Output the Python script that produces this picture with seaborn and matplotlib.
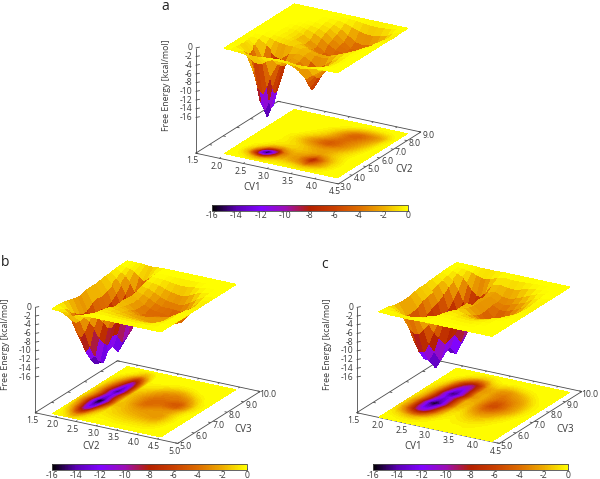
import numpy as np
import matplotlib
matplotlib.use("Agg")
import matplotlib.pyplot as plt
import seaborn as sns
from matplotlib.cm import ScalarMappable
from matplotlib.colors import Normalize
from mpl_toolkits.mplot3d import proj3d

sns.set_theme(style="white")
plt.rcParams["font.family"] = ["Open Sans", "DejaVu Sans"]
plt.rcParams["axes.unicode_minus"] = False

# ---- data -------------------------------------------------------------
a_x = [1.96, 2.10, 2.25, 2.40, 2.50, 2.60, 2.68, 2.75, 2.90, 3.05, 3.20, 3.35, 3.50, 3.65, 3.80, 3.95, 4.10, 4.20, 4.33]
a_y = [3.5, 3.8, 4.1, 4.25, 4.4, 4.55, 4.7, 5.0, 5.3, 5.6, 5.9, 6.2, 6.5, 6.8, 7.1, 7.4, 7.7, 8.0, 8.3, 8.6]
a_z = [
 [0,0,-.1,-.3,-.45,-.5,-.4,-.3,-.2,-.2,-.2,-.3,-.4,-.3,-.2,-.1,0,0,0],
 [0,-.1,-.6,-1.6,-2.4,-2.6,-2.2,-1.6,-.9,-.8,-.9,-1.2,-1.6,-1.3,-.8,-.3,-.1,0,0],
 [0,-.3,-1.6,-5.5,-9,-10,-8,-5.5,-2.4,-1.8,-2.2,-3,-4.5,-3.2,-2,-.8,-.2,0,0],
 [0,-.3,-1.9,-7,-12.5,-14,-11.5,-8.2,-3,-2.1,-2.5,-3.6,-5.5,-3.8,-2.3,-.9,-.2,0,0],
 [0,-.3,-1.8,-7,-13.4,-16,-13.6,-10,-3.5,-2.4,-2.7,-4.2,-7,-4.4,-2.4,-1,-.3,0,0],
 [0,-.3,-1.4,-5.4,-12,-14.6,-13.4,-10.2,-3.8,-2.4,-2.7,-4.6,-7.8,-4.8,-2.4,-1,-.3,0,0],
 [0,-.2,-1,-3.6,-7.6,-10,-10,-9,-3.6,-2.3,-2.7,-4.4,-7.6,-4.6,-2.4,-1,-.3,0,0],
 [0,-.1,-.4,-1.2,-2.4,-3.2,-3.5,-3.6,-2.2,-1.8,-2.1,-3.1,-4.2,-3,-1.7,-.8,-.2,0,0],
 [0,0,-.1,-.4,-.8,-1,-1.1,-1.2,-1.2,-1.4,-1.8,-2.2,-2.4,-1.9,-1.2,-.6,-.1,0,0],
 [0,0,0,-.2,-.4,-.5,-.7,-.8,-1.1,-1.6,-2.1,-2.4,-2.4,-2,-1.3,-.7,-.2,0,0],
 [0,0,0,-.1,-.3,-.5,-.8,-1,-1.7,-2.5,-3.1,-3.4,-3.1,-2.6,-1.8,-1,-.3,0,0],
 [0,0,0,-.1,-.4,-.6,-1,-1.3,-2.3,-3.3,-4.2,-4.9,-4.2,-3.3,-2.4,-1.4,-.5,-.1,0],
 [0,0,0,-.1,-.3,-.5,-.8,-1.1,-2.1,-3.1,-4.2,-4.9,-4.4,-3.5,-2.8,-1.8,-.8,-.2,0],
 [0,0,0,0,-.1,-.2,-.4,-.6,-1.2,-2,-3.1,-4,-4.2,-3.7,-3.1,-2.2,-1.1,-.3,0],
 [0,0,0,0,0,-.1,-.2,-.3,-.7,-1.3,-2.4,-3.5,-4.2,-4.2,-3.5,-2.6,-1.4,-.5,0],
 [0,0,0,0,0,0,-.1,-.1,-.4,-.9,-2,-3.3,-4.4,-4.6,-3.9,-3,-1.9,-.7,-.1],
 [0,0,0,0,0,0,0,0,-.2,-.6,-1.3,-2.4,-3.5,-3.9,-3.5,-3,-2,-.9,-.1],
 [0,0,0,0,0,0,0,0,-.1,-.2,-.5,-1.1,-1.7,-2,-2,-1.7,-1.1,-.5,0],
 [0,0,0,0,0,0,0,0,0,0,-.1,-.2,-.4,-.6,-.6,-.5,-.3,-.1,0],
 [0,0,0,0,0,0,0,0,0,0,0,0,0,0,0,0,0,0,0],
]

b_x = [1.85, 2.0, 2.1, 2.2, 2.3, 2.4, 2.5, 2.6, 2.75, 2.9, 3.05, 3.2, 3.35, 3.5, 3.65, 3.8, 3.95, 4.1, 4.3, 4.5]
b_y = [5.2, 5.5, 5.8, 6.1, 6.4, 6.7, 6.9, 7.2, 7.5, 7.8, 8.1, 8.4, 8.7, 9.0, 9.3, 9.75]
b_z = [
 [-.1,-.2,-.4,-.9,-1,-.7,-.3,-.1,0,0,0,0,0,0,0,0,0,0,0,0],
 [-.1,-.6,-1.4,-2.6,-3,-2.3,-1.2,-.6,-.2,-.2,-.2,-.3,-.3,-.3,-.3,-.3,-.3,-.2,-.1,0],
 [-.2,-1.6,-3.6,-6,-7,-5.4,-2.8,-1.2,-.4,-.5,-.6,-.7,-.8,-.8,-.8,-.8,-.8,-.5,-.1,0],
 [-.5,-2.8,-5.6,-9,-11,-9.5,-5,-2.2,-.7,-.9,-1.1,-1.2,-1.4,-1.5,-1.6,-1.6,-1.5,-.9,-.2,0],
 [-.8,-3.6,-6.8,-11,-13.5,-12.5,-8,-4.2,-.9,-1.2,-1.5,-1.8,-2,-2.2,-2.4,-2.5,-2.3,-1.3,-.3,0],
 [-1.2,-4.3,-7.7,-12,-15.3,-14.5,-10,-6.3,-1.5,-1.5,-1.9,-2.3,-2.5,-2.6,-2.6,-2.8,-2.6,-1.4,-.3,0],
 [-1.2,-4.2,-7.6,-12,-15.6,-15.4,-11,-6.8,-1.6,-1.6,-2.2,-2.8,-3,-2.8,-2.6,-2.6,-2.4,-1.4,-.3,0],
 [-.8,-3.2,-6,-9.6,-13,-13.2,-9.6,-6,-1.4,-2,-3,-3.8,-4,-3.6,-3.2,-3,-2.8,-1.9,-.5,0],
 [-.7,-2.8,-5.2,-8.6,-12,-13,-10,-6.2,-1.5,-2.2,-3.1,-4.1,-4.3,-4,-4.2,-4.6,-4.6,-3.2,-.9,0],
 [-.8,-3,-5.6,-9,-13,-15,-12.4,-7.6,-1.6,-2.2,-3.1,-3.8,-4.1,-4.2,-4.6,-5.1,-5.1,-3.4,-1,0],
 [-.6,-2.6,-4.8,-7.6,-11,-13.8,-12,-7.6,-1.4,-1.8,-2.5,-3.2,-3.7,-3.7,-3.7,-3.9,-3.5,-2.3,-.6,0],
 [-.4,-2,-3.8,-6,-9.4,-12.5,-11,-7,-.9,-1.2,-1.8,-2.5,-3,-3.2,-3.4,-3,-2.3,-1.2,-.2,0],
 [-.3,-1.4,-2.6,-4.4,-7,-10,-8.8,-5.4,-.5,-.6,-.9,-1.4,-1.8,-2.1,-2.1,-1.6,-.9,-.4,0,0],
 [-.1,-.7,-1.4,-2.6,-4.4,-6.4,-5.6,-3.2,-.2,-.2,-.3,-.5,-.7,-.8,-.7,-.5,-.2,0,0,0],
 [0,-.2,-.4,-.9,-1.6,-2.5,-2.2,-1.2,-.1,0,0,-.1,-.1,-.1,-.1,0,0,0,0,0],
 [0,0,0,0,-.1,-.2,-.2,-.1,0,0,0,0,0,0,0,0,0,0,0,0],
]

c_x = [1.96, 2.1, 2.2, 2.3, 2.4, 2.5, 2.6, 2.7, 2.8, 2.95, 3.1, 3.25, 3.4, 3.55, 3.7, 3.85, 4.0, 4.15, 4.33]
c_y = [5.03, 5.3, 5.6, 5.9, 6.2, 6.5, 6.9, 7.2, 7.5, 7.85, 8.2, 8.5, 8.8, 9.1, 9.4, 9.75]
c_z = [
 [0,0,-.1,-.1,-.1,-.1,-.1,-.1,0,0,0,0,0,0,0,0,0,0,0],
 [-.1,-.2,-.3,-.5,-.6,-.6,-.5,-.3,-.2,-.1,0,0,-.1,-.1,-.1,0,0,0,0],
 [-.3,-.8,-1.2,-1.7,-2,-1.9,-1.5,-1,-.6,-.2,-.1,-.2,-.2,-.3,-.2,-.1,0,0,0],
 [-.7,-2,-3.3,-4.8,-5.9,-5.8,-4.4,-3,-1.6,-.5,-.2,-.4,-.5,-.5,-.4,-.2,-.1,0,0],
 [-1,-3.3,-6,-8.8,-10.8,-10.7,-8.4,-5.5,-2.9,-.8,-.4,-.7,-1,-1,-.7,-.4,-.1,0,0],
 [-1.1,-3.5,-6.8,-10.3,-13.1,-13.2,-10.8,-7.4,-4,-1.1,-.6,-1.2,-1.7,-1.7,-1.3,-.7,-.3,-.1,0],
 [-1,-3.2,-6.7,-10.9,-14.7,-16,-14,-10,-6,-1.8,-1.2,-2.3,-3.1,-3.1,-2.5,-1.6,-.8,-.2,0],
 [-.7,-2.4,-5.2,-8.7,-12.3,-14,-12.9,-9.5,-5.9,-1.8,-1.7,-3.1,-4.4,-4.4,-3.5,-2.5,-1.4,-.4,0],
 [-.5,-2,-4.5,-7.8,-11,-13,-12.2,-9.1,-5.9,-1.8,-2,-3.6,-5.4,-5.6,-4.2,-2.9,-1.8,-.6,0],
 [-.5,-1.8,-4,-7.8,-11.7,-14.7,-14.7,-11.7,-7.8,-3,-2.1,-3.5,-5.1,-5.1,-3.9,-2.8,-1.8,-.6,0],
 [-.3,-1.3,-3.1,-6.2,-9.4,-12.4,-13,-10.7,-7.4,-2.6,-2.1,-3.2,-4,-3.8,-3.2,-2.5,-1.4,-.4,0],
 [-.2,-.9,-2.1,-4.8,-7.6,-10.2,-11.4,-10,-7.2,-2.8,-2.3,-3.2,-3.6,-3,-2.5,-1.8,-.8,-.2,0],
 [-.1,-.5,-1.4,-3.2,-5.6,-7.7,-9.2,-8.8,-6.6,-2.4,-2,-2.7,-2.9,-2.3,-1.7,-.9,-.3,0,0],
 [0,-.2,-.5,-1.2,-2.4,-3.8,-4.8,-4.7,-3.5,-1.3,-1,-1.4,-1.4,-1,-.6,-.3,0,0,0],
 [0,0,-.1,-.3,-.6,-1,-1.4,-1.4,-1.1,-.4,-.2,-.3,-.3,-.2,-.1,0,0,0,0],
 [0,0,0,0,-.1,-.1,-.1,-.1,-.1,0,0,0,0,0,0,0,0,0,0],
]

z_ticks = [0, -2, -4, -6, -8, -10, -12, -14, -16]
cbar_ticks = [-16, -14, -12, -10, -8, -6, -4, -2, 0]
cv1_ticks = [1.5, 2.0, 2.5, 3.0, 3.5, 4.0, 4.5]
cv2a_ticks = [3.0, 4.0, 5.0, 6.0, 7.0, 8.0, 9.0]
cv2b_ticks = [1.5, 2.0, 2.5, 3.0, 3.5, 4.0, 4.5, 5.0]
cv3_ticks = [5.0, 6.0, 7.0, 8.0, 9.0, 10.0]

# ---- style ------------------------------------------------------------
W, H = 600, 479
Z_FLOOR = -24.2
INK = "#3a3a3a"
LINE = "#4a4a4a"
FS = 6.2
cmap = sns.blend_palette(["#000000", "#5a00b4", "#8004ff", "#9c0eb4", "#b42000",
                          "#c93e00", "#dd6c00", "#eeab00", "#ffff00"], as_cmap=True)
norm = Normalize(-16, 0)

fig = plt.figure(figsize=(W / 100, H / 100), dpi=100)


def to_px(ax, x, y, z):
    xs, ys, _ = proj3d.proj_transform(x, y, z, ax.get_proj())
    return ax.transData.transform((xs, ys))


def txt(px, py, s, **kw):
    """Place text at image pixel coordinates (y measured from the top)."""
    kw.setdefault("color", INK)
    kw.setdefault("fontsize", FS)
    kw.setdefault("ha", "center")
    kw.setdefault("va", "center")
    fig.text(px / W, 1 - py / H, s, **kw)


def panel(letter, letter_xy, corner, xs, ys, zs, xt, yt, xlab, ylab, zlab_fmt, cbar_box):
    X, Y = np.meshgrid(xs, ys)
    Z = np.array(zs, dtype=float)
    xlim, ylim = (xt[0], xt[-1]), (yt[0], yt[-1])
    size = 340
    ax = fig.add_axes([0.2, 0.2, size / W, size / H], projection="3d", computed_zorder=False)
    ax.set_proj_type("ortho")
    ax.view_init(elev=21.6, azim=-59.7)
    ax.set_xlim(*xlim); ax.set_ylim(*ylim); ax.set_zlim(Z_FLOOR, 0)
    ax.set_axis_off()
    ax.patch.set_alpha(0)
    ax.set_box_aspect((165, 163, 113), zoom=1)
    ax.apply_aspect()
    p0 = to_px(ax, xlim[0], ylim[0], Z_FLOOR)
    p1 = to_px(ax, xlim[1], ylim[0], Z_FLOOR)
    ax.set_box_aspect((165, 163, 113), zoom=146.0 / np.hypot(*(p1 - p0)))
    p0 = to_px(ax, xlim[0], ylim[0], Z_FLOOR)
    dx = corner[0] - p0[0]
    dy = (H - corner[1]) - p0[1]
    pos = ax.get_position()
    ax.set_position([pos.x0 + dx / W, pos.y0 + dy / H, pos.width, pos.height])

    # frame
    lkw = dict(color=LINE, lw=0.6, zorder=1, solid_capstyle="butt")
    ax.plot([xlim[0], xlim[1], xlim[1], xlim[0], xlim[0]],
            [ylim[0], ylim[0], ylim[1], ylim[1], ylim[0]],
            [Z_FLOOR] * 5, **lkw)
    ax.plot([xlim[0], xlim[0]], [ylim[0], ylim[0]], [Z_FLOOR, 0], **lkw)
    ytick_len = 0.018 * (ylim[1] - ylim[0])
    xtick_len = 0.018 * (xlim[1] - xlim[0])
    for v in xt:
        ax.plot([v, v], [ylim[0], ylim[0] + ytick_len], [Z_FLOOR, Z_FLOOR], **lkw)
        ax.plot([v, v], [ylim[1], ylim[1] - ytick_len], [Z_FLOOR, Z_FLOOR], **lkw)
        q = to_px(ax, v, ylim[0], Z_FLOOR)
        txt(q[0] - 3.0, H - q[1] + 7.7, f"{v:.1f}")
    for v in yt:
        ax.plot([xlim[1], xlim[1] - xtick_len], [v, v], [Z_FLOOR, Z_FLOOR], **lkw)
        ax.plot([xlim[0], xlim[0] + xtick_len], [v, v], [Z_FLOOR, Z_FLOOR], **lkw)
        q = to_px(ax, xlim[1], v, Z_FLOOR)
        txt(q[0] + 7.5, H - q[1] + 3.3, f"{v:.1f}")
    for v in z_ticks:
        ax.plot([xlim[0], xlim[0] + xtick_len * 0.8], [ylim[0], ylim[0] + ytick_len * 1.4], [v, v], **lkw)
        q = to_px(ax, xlim[0], ylim[0], v)
        txt(q[0] - 3.5, H - q[1], f"{v}", ha="right")

    # floor map and surface
    ax.contourf(X, Y, Z, levels=np.linspace(-16.01, 0.01, 65), zdir="z", offset=Z_FLOOR,
                cmap=cmap, norm=norm, zorder=2, antialiased=False)
    surf = ax.plot_surface(X, Y, Z, cmap=cmap, norm=norm, rstride=1, cstride=1, linewidth=0.3,
                           antialiased=False, shade=False, zorder=3)
    surf.set_edgecolor("face")

    # labels
    cx, cy = corner
    txt(cx + 56.5, cy + 34, xlab, fontsize=7)
    txt(cx + 208, cy + 16.6, ylab, fontsize=7)
    txt(cx - 29.3, cy - 68.5, zlab_fmt, rotation=90, fontsize=6.3)
    txt(letter_xy[0], letter_xy[1], letter, fontsize=10, color="#222222")

    # colour bar
    l, t, r, b = cbar_box
    cax = fig.add_axes([l / W, 1 - b / H, (r - l) / W, (b - t) / H])
    cb = fig.colorbar(ScalarMappable(norm=norm, cmap=cmap), cax=cax, orientation="horizontal",
                      ticks=cbar_ticks)
    cb.outline.set_edgecolor(LINE)
    cb.outline.set_linewidth(0.6)
    cax.tick_params(axis="x", which="major", direction="in", length=1.5, width=0.5, color=LINE,
                    labelsize=FS, labelcolor=INK, pad=0.5, bottom=True, top=True)
    cax.set_xticklabels([str(v) for v in cbar_ticks])


panel("a", (165, 6), (195.7, 153.2), a_x, a_y, a_z, cv1_ticks, cv2a_ticks, "CV1", "CV2",
      "Free Energy [kcal/mol]", (212, 205, 407.7, 210.7))
panel("b", (5, 263), (35, 412.7), b_x, b_y, b_z, cv2b_ticks, cv3_ticks, "CV2", "CV3",
      "Free Energy [kcal/mol]", (51.7, 463.5, 246.7, 470))
panel("c", (325, 264), (356.7, 412.7), c_x, c_y, c_z, cv1_ticks, cv3_ticks, "CV1", "CV3",
      "Free Energy [kcal/mol]", (372.7, 463.5, 568.3, 470))

fig.savefig("out.png", dpi=100, facecolor="white")
